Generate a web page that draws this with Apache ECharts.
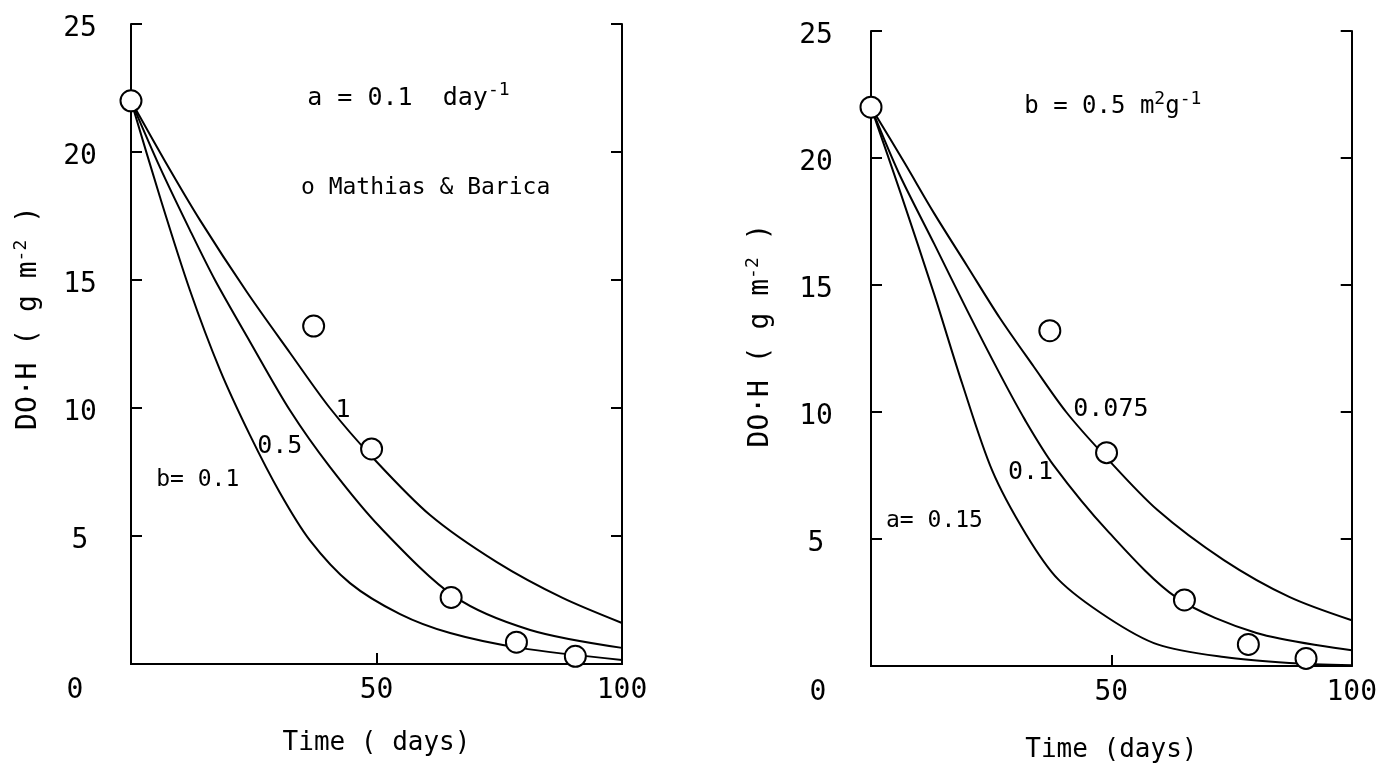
<!DOCTYPE html>
<html>
<head>
<meta charset="utf-8">
<script src="https://cdn.jsdelivr.net/npm/echarts/dist/echarts.min.js"></script>
<style>
  html, body { margin: 0; padding: 0; background: #ffffff; }
  #chart { width: 1380px; height: 773px; }
</style>
</head>
<body>
<div id="chart"></div>
<script>
// Mathias & Barica observations: [time (days), DO·H (g m^-2)]
const observed = [[0, 22], [37.2, 13.2], [49, 8.4], [65.2, 2.6], [78.5, 0.85], [90.5, 0.3]];

// Left panel, a = 0.1 day^-1, curves for b = 1, 0.5, 0.1
const leftB1 = [[0, 22], [6.9, 19.65], [14.05, 17.34], [23.6, 14.53], [32.4, 12.15], [40.5, 10.0],
  [49.1, 8.09], [60.9, 5.82], [74.5, 3.98], [87.9, 2.58], [100, 1.6]];
const leftB05 = [[0, 22], [5.9, 19.4], [12.0, 16.95], [17.1, 15.0], [24.2, 12.6], [32.4, 9.9], [40.5, 7.7],
  [50.7, 5.35], [66.0, 2.62], [81.3, 1.33], [100, 0.63]];
const leftB01 = [[0, 22], [5.9, 18.24], [12.0, 14.6], [18.1, 11.5], [24.2, 8.95], [30.3, 6.7], [36.4, 4.84],
  [44.6, 3.16], [54.8, 1.95], [65.0, 1.21], [79.2, 0.63], [100, 0.16]];

// Right panel, b = 0.5 m^2 g^-1, curves for a = 0.075, 0.1, 0.15
const rightA0075 = [[0, 22], [7.0, 19.8], [13.2, 17.8], [20.0, 15.75], [26.8, 13.7], [33.8, 11.8], [40.6, 10.0],
  [48.5, 8.3], [59.6, 6.14], [73.4, 4.17], [87.0, 2.72], [100, 1.8]];
const rightA01 = [[0, 22], [5.8, 19.4], [13.2, 16.6], [20, 14.0], [26.8, 11.5], [32, 9.7], [38, 7.9],
  [49.3, 5.3], [63.5, 2.7], [80.2, 1.3], [100, 0.62]];
const rightA015 = [[0, 22], [6.2, 18.6], [13.2, 14.6], [19, 11.1], [25.2, 7.7], [32.2, 5.2], [39, 3.4],
  [49.3, 1.9], [59.6, 0.85], [73.4, 0.35], [87, 0.12], [100, 0.03]];

// Axis ranges and tick steps
const timeTicks = { min: 0, max: 100, step: 50 };
const doTicks = { min: 0, max: 25, step: 5 };

const FONT = '"DejaVu Sans Mono", "Liberation Mono", monospace';
const INK = '#000000';
const supStyle = { fontFamily: FONT, fontSize: 18, color: INK, padding: [0, 0, 16, 0] };

const chart = echarts.init(document.getElementById('chart'), null, { renderer: 'canvas' });

function xAxisFor(gridIndex, originShift, nameGap, name) {
  return {
    gridIndex, type: 'value', min: timeTicks.min, max: timeTicks.max, interval: timeTicks.step,
    axisLine: { onZero: false, lineStyle: { color: INK, width: 2 } },
    axisTick: { inside: true, length: 11, lineStyle: { color: INK, width: 2 } },
    splitLine: { show: false },
    axisLabel: {
      color: INK, fontFamily: FONT, fontSize: 28, margin: 13,
      formatter: v => (v === 0 ? '{o|0}' : String(v)),
      rich: { o: { fontFamily: FONT, fontSize: 28, color: INK, padding: [0, originShift, 0, 0] } }
    },
    name, nameLocation: 'middle', nameGap,
    nameTextStyle: { color: INK, fontFamily: FONT, fontSize: 26 }
  };
}

function yAxesFor(gridIndex, labelMargin, nameGap, name, lift) {
  return [{
    gridIndex, type: 'value', min: doTicks.min, max: doTicks.max, interval: doTicks.step, position: 'left',
    axisLine: { onZero: false, lineStyle: { color: INK, width: 2 } },
    axisTick: { inside: true, length: 11, lineStyle: { color: INK, width: 2 } },
    splitLine: { show: false },
    axisLabel: {
      color: INK, fontFamily: FONT, fontSize: 28, align: 'center', margin: labelMargin,
      formatter: v => (v === 0 ? '' : '{n|' + v + '}'),
      rich: { n: { fontFamily: FONT, fontSize: 28, color: INK, padding: [10, 0, 0, 0] } }
    },
    name, nameLocation: 'middle', nameGap, nameRotate: 90,
    nameTextStyle: { color: INK, fontFamily: FONT, fontSize: 28, padding: [0, 0, 0, lift], rich: { sup: supStyle } }
  }, {
    gridIndex, type: 'value', min: doTicks.min, max: doTicks.max, interval: doTicks.step, position: 'right',
    axisLine: { onZero: false, lineStyle: { color: INK, width: 2 } },
    axisTick: { inside: true, length: 11, lineStyle: { color: INK, width: 2 } },
    splitLine: { show: false },
    axisLabel: { show: false }
  }];
}

function curve(data, axisIdx) {
  return {
    type: 'line', data, xAxisIndex: axisIdx, yAxisIndex: axisIdx * 2,
    smooth: 0.3, symbol: 'none', silent: true,
    lineStyle: { color: INK, width: 2 }, z: 2
  };
}

function points(axisIdx) {
  return {
    type: 'scatter', data: observed, xAxisIndex: axisIdx, yAxisIndex: axisIdx * 2,
    symbol: 'circle', symbolSize: 21, silent: true, z: 4,
    itemStyle: { color: '#ffffff', borderColor: INK, borderWidth: 2, opacity: 1 }
  };
}

// Text annotations placed in data coordinates
function notes(axisIdx, items) {
  return {
    type: 'scatter', xAxisIndex: axisIdx, yAxisIndex: axisIdx * 2, symbolSize: 0, silent: true, z: 5,
    itemStyle: { opacity: 1 },
    data: items.map(it => ({
      value: it.at,
      label: {
        show: true, position: it.pos || 'inside', formatter: it.text, opacity: 1,
        color: INK, fontFamily: FONT, fontSize: it.size || 25,
        rich: { sup: supStyle }
      }
    }))
  };
}

const option = {
  animation: false,
  backgroundColor: '#ffffff',
  grid: [
    { left: 131, top: 24, width: 491, height: 640, show: false },
    { left: 871, top: 31, width: 485, height: 635, show: false }
  ],
  xAxis: [
    xAxisFor(0, 112, 66, 'Time ( days)'),
    xAxisFor(1, 106, 71, 'Time (days)'),
    // top border lines of the two frames
    { gridIndex: 0, type: 'value', position: 'top', min: 0, max: 100, axisLine: { show: true, lineStyle: { color: INK, width: 2 } }, axisTick: { show: false }, axisLabel: { show: false }, splitLine: { show: false } },
    { gridIndex: 1, type: 'value', position: 'top', min: 0, max: 100, axisLine: { show: true, lineStyle: { color: INK, width: 2 } }, axisTick: { show: false }, axisLabel: { show: false }, splitLine: { show: false } }
  ],
  yAxis: [
    ...yAxesFor(0, 51, 85, 'DO·H ( g m{sup|-2} )', 52),
    ...yAxesFor(1, 55, 93, 'DO·H ( g m{sup|-2} )', 26)
  ],
  series: [
    curve(leftB1, 0), curve(leftB05, 0), curve(leftB01, 0),
    points(0),
    notes(0, [
      { at: [56.5, 22.1], text: 'a = 0.1  day{sup|-1}' },
      { at: [33.6, 18.6], text: 'o Mathias & Barica', pos: 'right', size: 23 },
      { at: [43.2, 9.9], text: '1' },
      { at: [30.3, 8.5], text: '0.5' },
      { at: [13.6, 7.2], text: 'b= 0.1', size: 23 }
    ]),
    curve(rightA0075, 1), curve(rightA01, 1), curve(rightA015, 1),
    points(1),
    notes(1, [
      { at: [50.3, 22.0], text: 'b = 0.5 m{sup|2}g{sup|-1}', size: 24 },
      { at: [49.9, 10.1], text: '0.075' },
      { at: [33.2, 7.6], text: '0.1' },
      { at: [13.2, 5.7], text: 'a= 0.15', size: 23 }
    ])
  ]
};

chart.setOption(option);
</script>
</body>
</html>
